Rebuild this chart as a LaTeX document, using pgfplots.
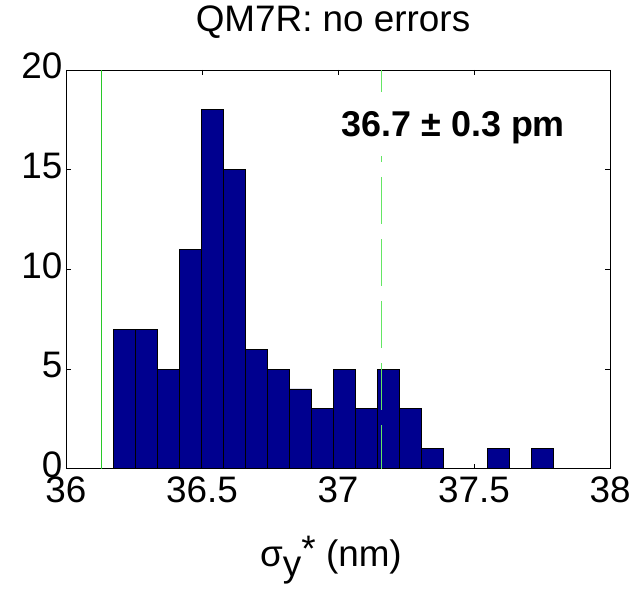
\documentclass[border=0pt]{standalone}
\usepackage{fontspec}
\setmainfont{Liberation Sans}
\usepackage{pgfplots}
\pgfplotsset{compat=1.18}
\definecolor{barblue}{rgb}{0,0,0.5625}
\definecolor{lgreen}{RGB}{40,200,40}
\definecolor{lgreen2}{RGB}{100,230,100}
\begin{document}
\begin{tikzpicture}
\begin{axis}[name=ax, at={(0,0)}, anchor=south west,
  scale only axis, width=544bp, height=398.7bp,
  xmin=36, xmax=38, ymin=0, ymax=20,
  xtick={36,36.5,37,37.5,38}, xticklabels={36,36.5,37,37.5,38},
  ytick={0,5,10,15,20}, yticklabels={0,5,10,15,20},
  tick align=inside, major tick length=5bp,
  tick style={black, line width=0.8bp},
  axis line style={line width=0.8bp},
  /pgf/number format/assume math mode=true,
  every tick label/.append style={font=\fontsize{37}{44}\selectfont},
  xticklabel style={yshift=-5bp},
  yticklabel style={yshift=4bp},
  title={QM7R: no errors},
  title style={at={(0.5,1)}, anchor=base, yshift=33bp, xshift=-5bp, font=\fontsize{37}{44}\selectfont},
  xlabel={σ\raisebox{-10bp}{y}\raisebox{5bp}{*} (nm)},
  xlabel style={at={(0.5,0)}, anchor=base, yshift=-98bp, xshift=-7bp, font=\fontsize{37}{44}\selectfont},
]
\addplot[ybar interval, fill=barblue, draw=black, line width=0.8bp] coordinates {
(36.1740,7) (36.2550,7) (36.3359,5) (36.4169,11) (36.4978,18)
(36.5788,15) (36.6598,6) (36.7407,5) (36.8217,4) (36.9026,3)
(36.9836,5) (37.0646,3) (37.1455,5) (37.2265,3) (37.3074,1)
(37.3884,0) (37.4694,0) (37.5503,1) (37.6313,0) (37.7122,1)
(37.7932,1)};
\addplot[lgreen, line width=1bp] coordinates {(36.130,0) (36.130,20)};
\addplot[lgreen2, line width=1bp, dash pattern=on 47bp off 15bp, dash phase=17bp] coordinates {(37.159,20) (37.159,0)};
\node[fill=white, anchor=base, inner xsep=8bp, inner ysep=19.3bp, text height=25.4bp, text depth=0bp, font=\fontsize{36}{43}\selectfont\bfseries] at (axis cs:37.424,16.66) {36.7 ± 0.3 pm};
\end{axis}
\pgfresetboundingbox
\path[use as bounding box] (ax.south west) ++(-66bp,-122.3bp) rectangle ++(635bp,591bp);
\end{tikzpicture}
\end{document}
